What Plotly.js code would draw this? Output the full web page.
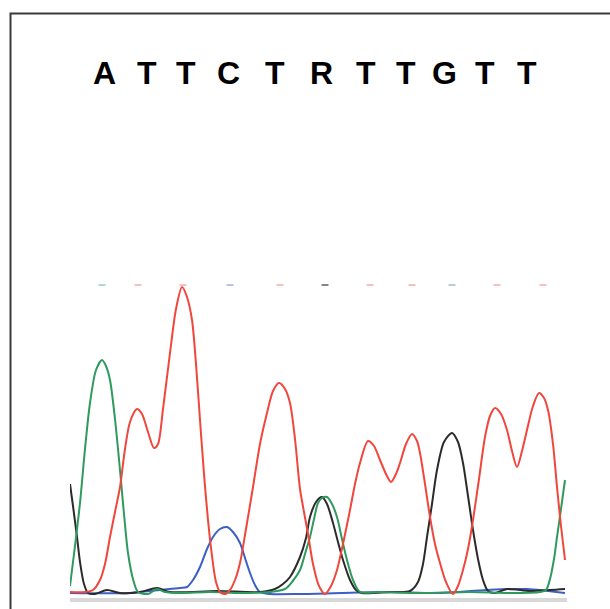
<!DOCTYPE html>
<html>
<head>
<meta charset="utf-8">
<script src="https://cdn.plot.ly/plotly-3.0.1.min.js"></script>
<style>
html,body{margin:0;padding:0;background:#fff;overflow:hidden;}
#chart{width:610px;height:609px;}
</style>
</head>
<body>
<div id="chart"></div>
<script>
// Base calls shown above the trace
const baseLetters = ["A","T","T","C","T","R","T","T","G","T","T"];
const letterPos   = [34, 77, 116, 158, 205, 251, 296, 336, 374, 415, 457];

// Peak (call) positions and their faint marker colours
const callPos    = [32, 68, 113, 160, 210, 255, 300, 342, 382, 427, 473];
const callColors = ["#a9dccb","#f7c0c0","#f7c0c0","#b7c3ea","#f7c0c0","#8f8390","#f7c0c0","#f7c0c0","#b3d0cb","#f7c0c0","#f7c0c0"];

// Channel A (green)
const aX = [0, 4, 10, 15, 20, 26, 32, 36, 40, 45, 50, 54, 58, 63, 68, 78, 87, 95, 110, 140, 170, 200, 215, 222, 230, 235, 240, 244, 248, 252, 257, 262, 267, 272, 277, 283, 290, 310, 350, 400, 440, 470, 476, 480, 484, 487, 491, 495];
const aY = [8, 40, 91, 145, 191, 224, 234, 228, 214, 175, 124, 80, 41, 15, 2, 0, 5, 2, 1, 2, 1, 2, 5, 12, 24, 40, 57, 75, 91, 96, 97, 90, 77, 55, 34, 14, 2, 2, 1, 2, 1, 2, 4, 15, 35, 57, 85, 114];

// Channel G (black)
const gX = [0, 3, 7, 10, 14, 18, 25, 37, 50, 70, 87, 100, 147, 190, 205, 213, 220, 230, 236, 240, 246, 252, 257, 263, 268, 273, 280, 286, 292, 320, 340, 348, 353, 357, 362, 367, 374, 382, 388, 393, 398, 403, 408, 413, 418, 425, 437, 460, 480, 495];
const gY = [110, 88, 57, 32, 10, 1, 0, 4, 1, 2, 6, 2, 3, 2, 5, 10, 17, 37, 56, 77, 92, 97, 90, 71, 52, 34, 14, 4, 1, 2, 3, 12, 30, 57, 90, 124, 152, 161, 152, 131, 98, 64, 35, 14, 3, 1, 5, 3, 4, 5];

// Channel T (red)
const tX = [0, 15, 23, 30, 35, 40, 45, 50, 55, 60, 67, 72, 78, 84, 88, 93, 100, 106, 112, 117, 122, 126, 130, 134, 138, 142, 146, 150, 155, 160, 165, 170, 176, 183, 190, 197, 203, 209, 215, 220, 225, 230, 234, 238, 243, 249, 255, 261, 267, 273, 280, 285, 290, 298, 304, 310, 316, 321, 326, 330, 336, 342, 347, 350, 355, 360, 365, 370, 376, 383, 388, 393, 398, 403, 409, 415, 420, 425, 431, 437, 442, 447, 452, 457, 463, 469, 474, 478, 483, 487, 491, 495];
const tY = [2, 2, 4, 14, 30, 57, 82, 107, 145, 172, 185, 180, 162, 146, 150, 185, 241, 285, 307, 297, 274, 230, 174, 120, 74, 38, 12, 2, 0, 4, 14, 31, 65, 107, 150, 181, 203, 211, 205, 191, 155, 105, 82, 60, 30, 8, 0, 8, 24, 50, 84, 110, 131, 153, 148, 134, 120, 112, 120, 131, 150, 160, 153, 141, 110, 77, 50, 31, 12, 0, 8, 24, 45, 74, 115, 157, 178, 186, 180, 164, 143, 127, 143, 164, 188, 201, 196, 184, 150, 107, 68, 34];

// Channel C (blue)
const cX = [0, 60, 90, 110, 117, 123, 130, 137, 143, 150, 157, 163, 170, 175, 180, 185, 190, 200, 230, 313, 370, 417, 457, 495];
const cY = [1, 1, 4, 6, 7, 14, 27, 45, 57, 65, 67, 62, 51, 36, 21, 9, 2, 0, 0, 2, 1, 4, 5, 1];

const mk = (x, y, color, name) => ({
  x: x, y: y, type: "scatter", mode: "lines", name: name,
  line: {color: color, width: 2, shape: "spline", smoothing: 0.8},
  hoverinfo: "skip"
});

const data = [
  mk(cX, cY, "#3b5fc4", "C"),
  mk(gX, gY, "#2b2b2b", "G"),
  mk(aX, aY, "#2e9a5e", "A"),
  mk(tX, tY, "#f0463c", "T"),
  {
    x: callPos, y: callPos.map(() => 309), type: "scatter", mode: "markers",
    marker: {symbol: "line-ew", size: 5, line: {width: 2, color: callColors}},
    hoverinfo: "skip", name: "calls"
  }
];

const annotations = baseLetters.map((b, i) => ({
  x: letterPos[i], xref: "x", y: 1.62, yref: "paper",
  text: "<b>" + b + "</b>", showarrow: false,
  xanchor: "center", yanchor: "middle",
  font: {family: "Liberation Sans, Arial, sans-serif", size: 32, color: "#000"}
}));

const layout = {
  width: 610, height: 609,
  margin: {l: 70, r: 43, t: 274, b: 11, pad: 0},
  paper_bgcolor: "#fff", plot_bgcolor: "#fff",
  showlegend: false,
  xaxis: {range: [0, 497], showgrid: false, zeroline: false, showticklabels: false, ticks: "",
          showline: true, linecolor: "#d8d8d8", linewidth: 4, fixedrange: true},
  yaxis: {range: [-4, 320], showgrid: false, zeroline: false, showticklabels: false, ticks: "",
          showline: false, fixedrange: true},
  annotations: annotations,
  shapes: [{
    type: "rect", xref: "paper", yref: "paper",
    x0: -0.1197, x1: 1.2, y0: -0.2, y1: 1.804,
    line: {color: "#3a3a3a", width: 2}, fillcolor: "rgba(0,0,0,0)", layer: "above"
  }]
};

Plotly.newPlot("chart", data, layout, {staticPlot: true, displayModeBar: false});
</script>
</body>
</html>
